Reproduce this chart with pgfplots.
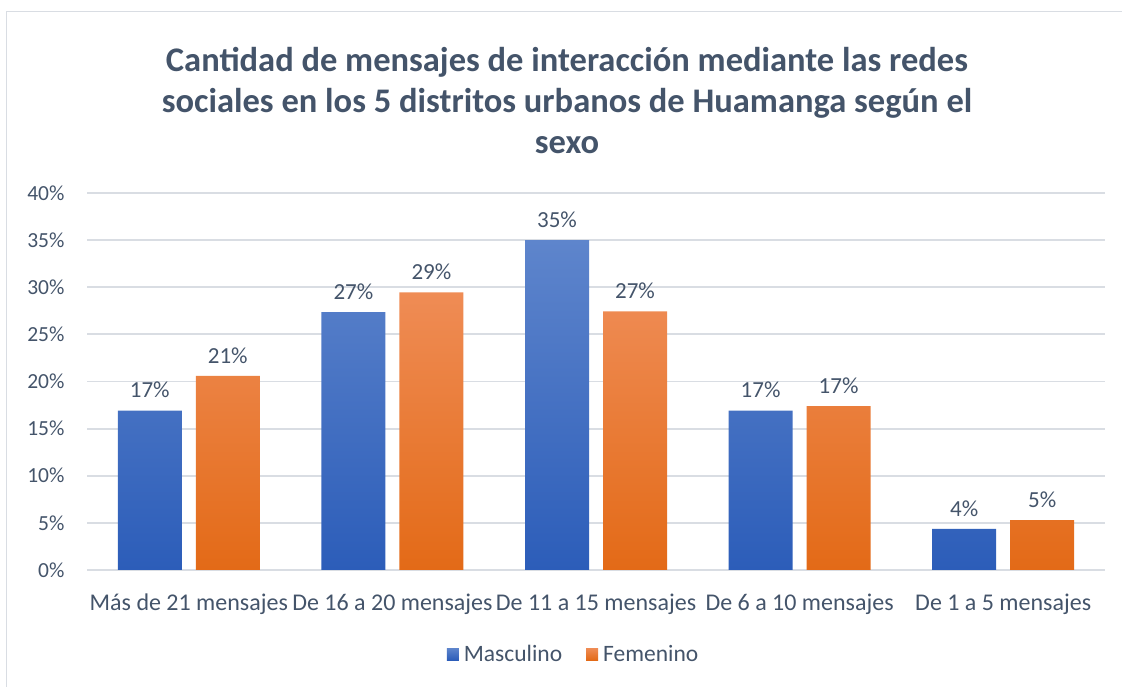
\documentclass[border=0pt]{standalone}
\usepackage{fontspec}
\setmainfont{Carlito}
\usepackage{pgfplots}
\pgfplotsset{compat=1.18}
\definecolor{txt}{HTML}{44546A}
\definecolor{gridc}{HTML}{D9DDE3}
\definecolor{btop}{HTML}{5E85CC}
\definecolor{bbot}{HTML}{2C5DB9}
\definecolor{bmid}{HTML}{4472C4}
\definecolor{otop}{HTML}{EF8C55}
\definecolor{obot}{HTML}{E36A17}
\definecolor{omid}{HTML}{ED7D31}
\begin{document}
\begin{tikzpicture}
\useasboundingbox (0,0) rectangle (1122pt,687pt);
\draw[color=gridc, line width=1.8pt] (6.5pt,0pt) -- (6.5pt,675.5pt) -- (1122pt,675.5pt);
\node[align=center, text=txt, font=\bfseries\fontsize{34.5}{41}\selectfont] at (567pt,586pt)
 {Cantidad de mensajes de interacción mediante las redes\\sociales en los 5 distritos urbanos de Huamanga según el\\sexo};
\begin{axis}[
  at={(87pt,117pt)}, anchor=south west,
  scale only axis, width=1018pt, height=377pt,
  xmin=-0.5, xmax=4.5, ymin=0, ymax=40,
  ybar=14pt, bar width=64pt,
  axis line style={draw=none},
  axis x line*=bottom,
  ytick={0,5,...,40},
  yticklabel={\pgfmathprintnumber{\tick}\%},
  xtick={0,1,2,3,4},
  xticklabels={Más de 21 mensajes, De 16 a 20 mensajes, De 11 a 15 mensajes, De 6 a 10 mensajes, De 1 a 5 mensajes},
  major tick length=0pt,
  ymajorgrids, grid style={gridc, line width=1.8pt},
  /pgf/number format/assume math mode=true,
  yticklabel style={text=txt, font=\fontsize{21.5}{24}\selectfont, xshift=-19pt},
  xticklabel style={text=txt, font=\fontsize{24}{26}\selectfont, yshift=-20pt},
  nodes near coords={\pgfmathprintnumber[fixed,precision=0]{\pgfplotspointmeta}\%},
  nodes near coords style={text=txt, font=\fontsize{23}{25}\selectfont, yshift=9pt},
  legend style={at={(0.478,-0.223)}, anchor=center, draw=none, fill=none,
    legend columns=2, font=\fontsize{23.5}{25}\selectfont, text=txt,
    /tikz/every odd column/.append style={column sep=3pt},
    /tikz/every even column/.append style={column sep=22pt}},
]
\addplot[draw=none, top color=btop, bottom color=bbot,
  legend image code/.code={\fill[bmid] (0pt,-6pt) rectangle (12pt,6pt);}]
  coordinates {(0,16.9) (1,27.35) (2,35.0) (3,16.9) (4,4.35)};
\addplot[draw=none, top color=otop, bottom color=obot,
  legend image code/.code={\fill[omid] (0pt,-6pt) rectangle (12pt,6pt);}]
  coordinates {(0,20.6) (1,29.45) (2,27.45) (3,17.4) (4,5.3)};
\legend{Masculino, Femenino}
\end{axis}
\end{tikzpicture}
\end{document}
